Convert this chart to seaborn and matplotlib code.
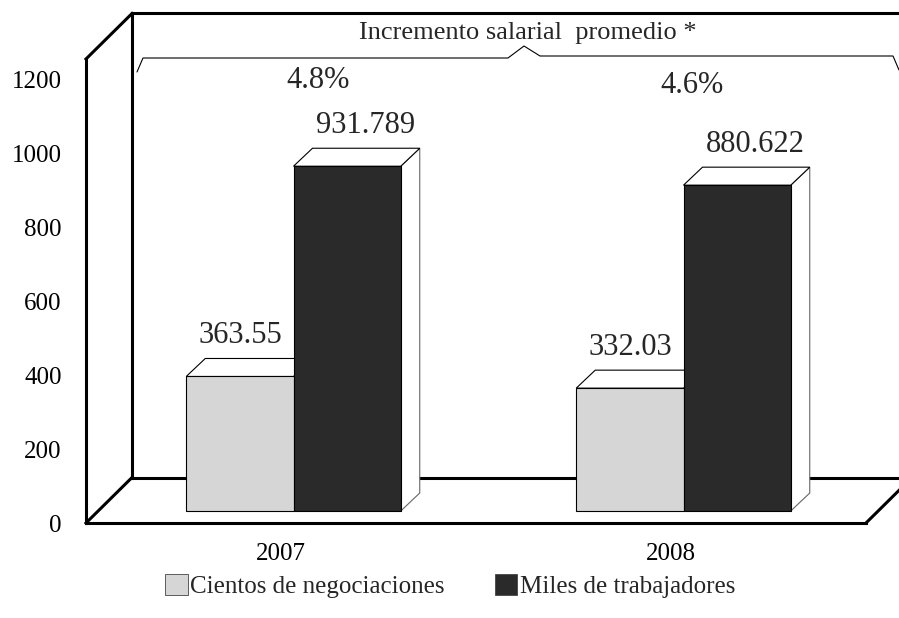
import matplotlib.pyplot as plt
import matplotlib.transforms as mtransforms
from matplotlib.lines import Line2D
from matplotlib.patches import Patch, Polygon
import pandas as pd
import seaborn as sns

# Datos del gráfico
years = ["2007", "2008"]
series = ["Cientos de negociaciones", "Miles de trabajadores"]
negociaciones = [363.55, 332.03]
trabajadores = [931.789, 880.622]
incrementos = ["4.8%", "4.6%"]
titulo_incremento = "Incremento salarial  promedio *"

df = pd.DataFrame(
    {
        "Año": years * 2,
        "Serie": [series[0]] * len(years) + [series[1]] * len(years),
        "Valor": negociaciones + trabajadores,
    }
)

sns.set_theme(style="white")
plt.rcParams["font.family"] = ["Liberation Serif", "DejaVu Serif"]

W, H = 899, 618
fig = plt.figure(figsize=(W / 100, H / 100), dpi=100)

# front plane of the 3D box, in pixels
left, right, bottom, top = 86, 866, 523, 59
ax = fig.add_axes([left / W, (H - bottom) / H, (right - left) / W, (bottom - top) / H])

colors = ["#d6d6d6", "#2a2a2a"]
sns.barplot(
    data=df, x="Año", y="Valor", hue="Serie", order=years, hue_order=series,
    palette=colors, width=0.55, edgecolor="black", linewidth=0.8,
    legend=False, ax=ax,
)

ax.set_xlim(-0.5, 1.5)
ax.set_ylim(0, (bottom - top) / ((bottom - 79) / 1200))
ax.set_yticks(range(0, 1201, 200))
ax.set_xlabel("")
ax.set_ylabel("")
ax.grid(False)
for s in ["top", "right"]:
    ax.spines[s].set_visible(False)
for s in ["left", "bottom"]:
    ax.spines[s].set_color("black")
    ax.spines[s].set_linewidth(2.2)
ax.tick_params(axis="both", which="major", direction="out", length=9.5, width=1,
               color="#555555", labelsize=18, labelcolor="black")
ax.tick_params(axis="y", pad=8)
ax.tick_params(axis="x", pad=5)

# depth of the box (pixels) and bar position inside it
depth_px = (46, 45.5)
bar_shift = mtransforms.ScaledTranslation(12.5 / 100, 12 / 100, fig.dpi_scale_trans)
bar_depth = (19, 18)

p = ax.transData.transform([(0, 0), (1, 1)])
sx, sy = p[1, 0] - p[0, 0], p[1, 1] - p[0, 1]
ddx, ddy = bar_depth[0] / sx, bar_depth[1] / sy
tr = ax.transData + bar_shift

# box frame: walls and floor
dxa, dya = depth_px[0] / (right - left), depth_px[1] / (bottom - top)
frame = [
    [(0, 1), (dxa, 1 + dya)],
    [(dxa, 1 + dya), (1.2, 1 + dya)],
    [(dxa, dya), (dxa, 1 + dya)],
    [(0, 0), (dxa, dya)],
    [(dxa, dya), (1 + dxa, dya)],
    [(1, 0), (1 + dxa, dya)],
]
for seg in frame:
    (x0, y0), (x1, y1) = seg
    ax.add_line(Line2D([x0, x1], [y0, y1], transform=ax.transAxes, color="black",
                       lw=2.2, clip_on=False, zorder=0.5, solid_capstyle="projecting"))

# 3D bars: front faces from seaborn, plus top and side faces
label_dx = [0, 18]
for k, cont in enumerate(ax.containers):
    for i, bar in enumerate(cont.patches):
        bar.set_transform(tr)
        bar.set_zorder(3)
        bar.set_clip_on(False)
        x0, w, h = bar.get_x(), bar.get_width(), bar.get_height()
        topf = Polygon([(x0, h), (x0 + w, h), (x0 + w + ddx, h + ddy), (x0 + ddx, h + ddy)],
                       closed=True, facecolor="white", edgecolor="black", lw=0.8,
                       transform=tr, zorder=2, clip_on=False)
        side = Polygon([(x0 + w, 0), (x0 + w + ddx, ddy), (x0 + w + ddx, h + ddy), (x0 + w, h)],
                       closed=True, facecolor="white", edgecolor="#666666", lw=0.8,
                       transform=tr, zorder=2, clip_on=False)
        ax.add_patch(side)
        ax.add_patch(topf)
        ax.annotate(f"{h:g}", (x0 + w / 2, h), xycoords=tr,
                    xytext=(label_dx[k] * 0.72, 33 * 0.72), textcoords="offset points",
                    ha="center", va="baseline", fontsize=22, zorder=4)

# increment labels and brace
inc_offsets = [(37, -9), (21, -14)]
for i, txt in enumerate(incrementos):
    ax.annotate(txt, (i, 1200), xytext=(inc_offsets[i][0] * 0.72, inc_offsets[i][1] * 0.72),
                textcoords="offset points", ha="center", va="baseline", fontsize=22)

fig.text(528 / W, 1 - 33 / H, titulo_incremento, ha="center", va="center", fontsize=19)
brace = [(137, 72), (143, 58), (508, 58), (524, 46), (540, 56), (893, 56), (899, 70)]
fig.add_artist(Line2D([x / W for x, _ in brace], [1 - y / H for _, y in brace],
                      color="black", lw=0.8))

handles = [Patch(facecolor=c, edgecolor="#444444", lw=0.6) for c in colors]
fig.legend(handles, series, loc="center", bbox_to_anchor=(450 / W, 1 - 586 / H),
           ncol=2, frameon=False, fontsize=18, handlelength=0.9, handleheight=0.9,
           handletextpad=0.1, columnspacing=2.0, borderaxespad=0)

plt.savefig("out.png", dpi=100)
